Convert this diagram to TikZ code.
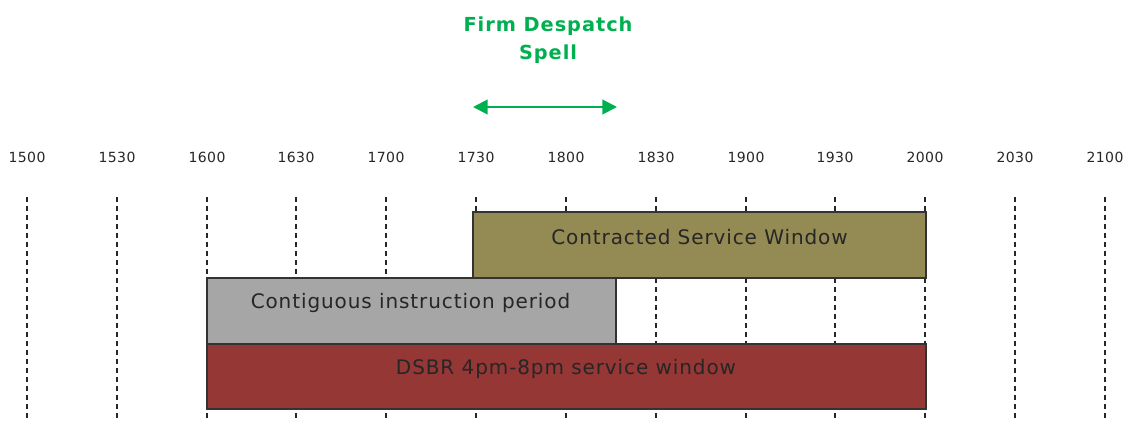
\documentclass[tikz,border=0pt]{standalone}
\usepackage{fontspec}
\setmainfont{DejaVu Sans}
\newfontfamily\barfont[LetterSpace=4.5]{DejaVu Sans}
\newfontfamily\titlefont[LetterSpace=5]{DejaVu Sans}
\newfontfamily\tickfont[LetterSpace=3]{DejaVu Sans}
\usetikzlibrary{arrows.meta}
\definecolor{olivebox}{HTML}{948A54}
\definecolor{graybox}{HTML}{A6A6A6}
\definecolor{redbox}{HTML}{953735}
\definecolor{titlegreen}{HTML}{00B050}
\tikzset{
  bar/.style={draw=black!80, line width=1.5pt, inner sep=0pt},
  barlabel/.style={font=\barfont\fontsize{15}{17}\selectfont, text=black!85, anchor=center},
  ticklabel/.style={font=\tickfont\fontsize{10.5}{12}\selectfont, text=black!85, anchor=center},
  grid/.style={dash pattern=on 3.75pt off 3pt, line width=1.5pt, black!85},
}
\begin{document}
\begin{tikzpicture}[x=0.75pt, y=-0.75pt]
\useasboundingbox (0,0) rectangle (1124,423);
% grid lines and labels
\foreach \i/\lab in {0/1500,1/1530,2/1600,3/1630,4/1700,5/1730,6/1800,7/1830,8/1900,9/1930,10/2000,11/2030,12/2100}{
  \pgfmathsetmacro{\xx}{round(27+89.83*\i)}
  \node[ticklabel] (t\i) at (\xx,157) {\lab};
  \coordinate (gtop\i) at (\xx,197);
  \coordinate (gbot\i) at (\xx,420);
  \draw[grid] (gtop\i) -- (gbot\i);
}
% bars
\draw[bar, fill=olivebox] (473,212) rectangle (926,278);
\node[barlabel] (csw) at (699.5,237.5) {Contracted Service Window};
\draw[bar, fill=graybox] (207,278) rectangle (616,344);
\node[barlabel] (cip) at (410.5,303) {Contiguous instruction period};
\draw[bar, fill=redbox] (207,344) rectangle (926,409);
\node[barlabel] (dsbr) at (566,368.5) {DSBR 4pm-8pm service window};
% title
\node[font=\titlefont\bfseries\fontsize{14.5}{21}\selectfont, text=titlegreen, align=center] (title) at (548,40) {Firm Despatch\\Spell};
\coordinate (al) at (473,107);
\coordinate (ar) at (617,107);
\draw[titlegreen, line width=1.5pt, {Triangle[length=11pt,width=11pt]}-{Triangle[length=11pt,width=11pt]}] (al) -- (ar);
\end{tikzpicture}
\end{document}
